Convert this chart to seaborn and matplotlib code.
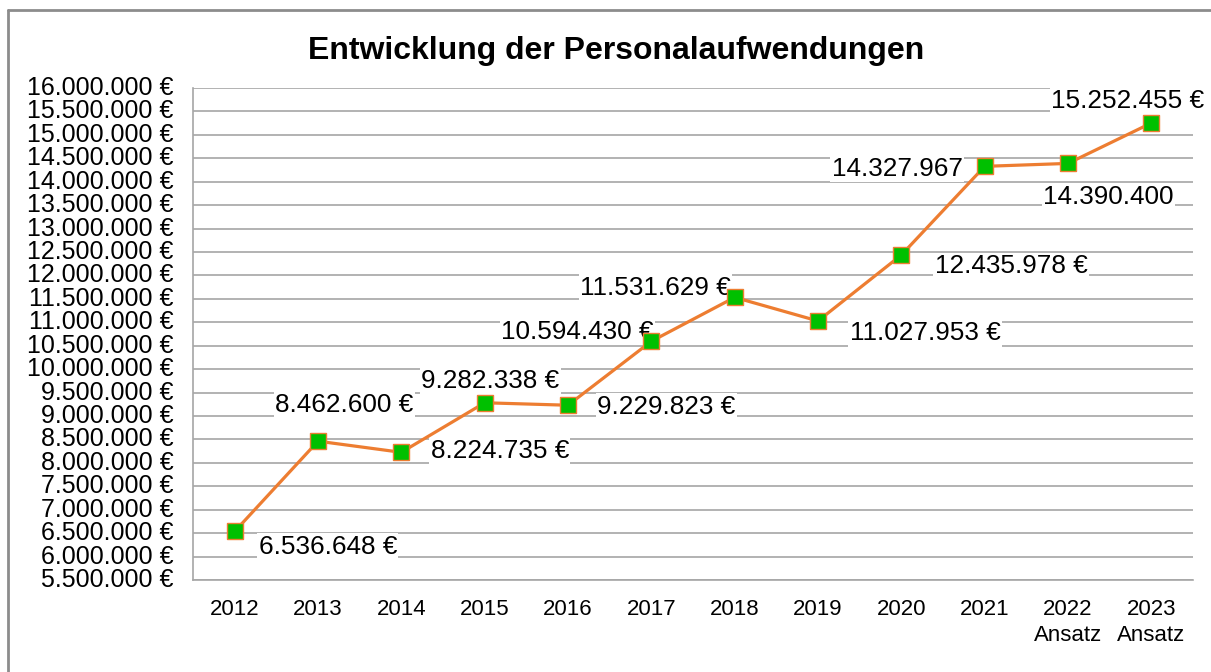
import numpy as np
import pandas as pd
import matplotlib
matplotlib.use('Agg')
import matplotlib.pyplot as plt
import seaborn as sns
from matplotlib.lines import Line2D
from matplotlib.ticker import FuncFormatter, MultipleLocator

# Daten
jahre = ['2012', '2013', '2014', '2015', '2016', '2017', '2018', '2019',
         '2020', '2021', '2022\nAnsatz', '2023\nAnsatz']
werte = [6536648, 8462600, 8224735, 9282338, 9229823, 10594430,
         11531629, 11027953, 12435978, 14327967, 14390400, 15252455]
beschriftungen = ['6.536.648 €', '8.462.600 €', '8.224.735 €', '9.282.338 €',
                  '9.229.823 €', '10.594.430 €', '11.531.629 €', '11.027.953 €',
                  '12.435.978 €', '14.327.967', '14.390.400', '15.252.455 €']
# Versatz der Beschriftungen (Punkte)
versatz = [(67, -11), (19, 26), (71, 1), (4, 16), (71, -1), (-53, 7),
           (-57, 7), (77, -9), (79, -8), (-63, -2), (29, -24), (-17, 16)]

df = pd.DataFrame({'Jahr': jahre, 'Wert': werte})

sns.set_style('white')
plt.rcParams['font.family'] = ['Liberation Sans', 'DejaVu Sans']
plt.rcParams['text.color'] = 'black'
plt.rcParams['xtick.color'] = 'black'
plt.rcParams['ytick.color'] = 'black'

fig = plt.figure(figsize=(12.11, 6.72), dpi=100)
ax = fig.add_axes([193 / 1211, 1 - 580 / 672, 1000 / 1211, 492 / 672])

x = np.arange(len(jahre))
sns.lineplot(x=x, y=df['Wert'], ax=ax, color='#ED7D31', linewidth=2.3,
             marker='s', markersize=11.5, markerfacecolor='#00C000',
             markeredgecolor='#ED7D31', markeredgewidth=1.0, zorder=5)

# Datenbeschriftungen (weiß hinterlegt, unter der Linie)
for xi, w, txt, off in zip(x, werte, beschriftungen, versatz):
    ax.annotate(txt, (xi, w), xytext=off, textcoords='offset points',
                ha='center', va='center', fontsize=18.8, color='black',
                bbox=dict(boxstyle='square,pad=0.05', fc='white', ec='none'),
                zorder=4)

ax.set_xlim(-0.5, len(jahre) - 0.5)
ax.set_ylim(5500000, 16000000)
ax.yaxis.set_major_locator(MultipleLocator(500000))
ax.yaxis.set_major_formatter(FuncFormatter(
    lambda v, p: f'{int(v):,} €'.replace(',', '.')))
ax.grid(axis='y', color='#A6A6A6', linewidth=1.2, zorder=0)
ax.set_axisbelow(True)

ax.set_xticks(x)
ax.set_xticklabels(jahre, fontsize=16, linespacing=1.3)
ax.set_xticks(np.arange(-0.5, len(jahre), 1), minor=True)
ax.tick_params(axis='x', which='major', length=0, pad=14, colors='black')
ax.tick_params(axis='x', which='minor', length=6, color='#A6A6A6', width=1.2)
ax.tick_params(axis='y', labelsize=18, length=6, color='#A6A6A6',
               width=1.2, pad=8, labelcolor='black')
for lab in ax.get_yticklabels():
    lab.set_verticalalignment('center')

for s in ['top', 'right']:
    ax.spines[s].set_visible(False)
for s in ['left', 'bottom']:
    ax.spines[s].set_color('#A6A6A6')
    ax.spines[s].set_linewidth(1.2)

ax.set_xlabel('')
ax.set_ylabel('')

fig.text(0.509, 1 - 51 / 672, 'Entwicklung der Personalaufwendungen',
         ha='center', va='center', fontsize=23, fontweight='bold', color='black')

# Rahmen
fig.add_artist(Line2D([8 / 1211, 1], [1 - 10 / 672, 1 - 10 / 672],
                      color='#8C8C8C', linewidth=2, transform=fig.transFigure))
fig.add_artist(Line2D([8 / 1211, 8 / 1211], [0, 1 - 10 / 672],
                      color='#8C8C8C', linewidth=2, transform=fig.transFigure))

fig.savefig('out.png', dpi=100, facecolor='white')
